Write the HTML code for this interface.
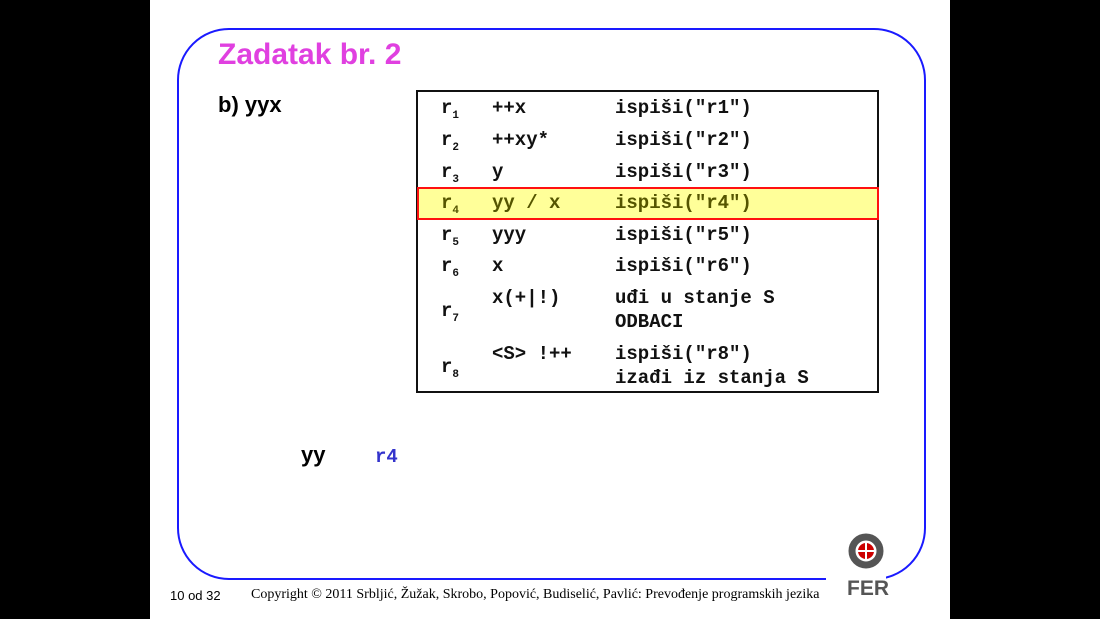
<!DOCTYPE html>
<html><head><meta charset="utf-8"><style>
body{margin:0;width:1100px;height:619px;background:#000;position:relative;overflow:hidden;font-family:"Liberation Sans",sans-serif}
.slide{position:absolute;left:150px;top:0;width:800px;height:619px;background:#fff}
.frame{position:absolute;left:177px;top:28px;width:745px;height:548px;border:2px solid #1a1aff;border-radius:52px}
.t{position:absolute;white-space:nowrap}
.mono{font-family:"Liberation Mono",monospace;font-weight:bold;font-size:19px;color:#111}
sub{font-size:11px;vertical-align:-5px}
</style></head><body>
<div class="slide"></div>
<div class="frame"></div>
<div class="t" style="left:218px;top:38px;font-size:30px;font-weight:bold;color:#e040e0">Zadatak br. 2</div>
<div class="t" style="left:218px;top:92px;font-size:22px;font-weight:bold">b) yyx</div>
<div style="position:absolute;left:416px;top:90px;width:459px;height:299px;border:2px solid #111"></div>
<div style="position:absolute;left:417px;top:187px;width:458px;height:29px;border:2px solid #ff1010;background:#ffff99"></div>
<div class="mono">
<div class="t" style="left:441px;top:97px">r<sub>1</sub></div><div class="t" style="left:492px;top:97px">++x</div><div class="t" style="left:615px;top:97px">ispiši("r1")</div>
<div class="t" style="left:441px;top:129px">r<sub>2</sub></div><div class="t" style="left:492px;top:129px">++xy*</div><div class="t" style="left:615px;top:129px">ispiši("r2")</div>
<div class="t" style="left:441px;top:161px">r<sub>3</sub></div><div class="t" style="left:492px;top:161px">y</div><div class="t" style="left:615px;top:161px">ispiši("r3")</div>
<div class="t" style="left:441px;top:192px;color:#555500">r<sub>4</sub></div><div class="t" style="left:492px;top:192px;color:#555500">yy / x</div><div class="t" style="left:615px;top:192px;color:#555500">ispiši("r4")</div>
<div class="t" style="left:441px;top:224px">r<sub>5</sub></div><div class="t" style="left:492px;top:224px">yyy</div><div class="t" style="left:615px;top:224px">ispiši("r5")</div>
<div class="t" style="left:441px;top:255px">r<sub>6</sub></div><div class="t" style="left:492px;top:255px">x</div><div class="t" style="left:615px;top:255px">ispiši("r6")</div>
<div class="t" style="left:441px;top:300px">r<sub>7</sub></div><div class="t" style="left:492px;top:287px">x(+|!)</div><div class="t" style="left:615px;top:287px">uđi u stanje S</div><div class="t" style="left:615px;top:311px">ODBACI</div>
<div class="t" style="left:441px;top:356px">r<sub>8</sub></div><div class="t" style="left:492px;top:343px">&lt;S&gt; !++</div><div class="t" style="left:615px;top:343px">ispiši("r8")</div><div class="t" style="left:615px;top:367px">izađi iz stanja S</div>
</div>
<div class="t" style="left:301px;top:442px;font-size:22px;font-weight:bold">yy</div>
<div class="t mono" style="left:375px;top:446px;color:#3333cc">r4</div>
<div style="position:absolute;left:826px;top:530px;width:60px;height:75px;background:#fff"></div>
<svg style="position:absolute;left:845px;top:533px" width="44" height="66">
<circle cx="21" cy="18" r="14" fill="none" stroke="#555" stroke-width="7"/>
<circle cx="21" cy="18" r="8" fill="#cc0000"/>
<path d="M21 10v16M13 18h16" stroke="#fff" stroke-width="2"/>
<text x="2" y="62" font-family="Liberation Sans" font-weight="bold" font-size="21" fill="#555">FER</text>
</svg>
<div class="t" style="left:170px;top:588px;font-size:13px">10 od 32</div>
<div class="t" style="left:251px;top:587px;font-size:14px;font-family:'Liberation Serif',serif">Copyright © 2011 Srbljić, Žužak, Skrobo, Popović, Budiselić, Pavlić: Prevođenje programskih jezika</div>
</body></html>
